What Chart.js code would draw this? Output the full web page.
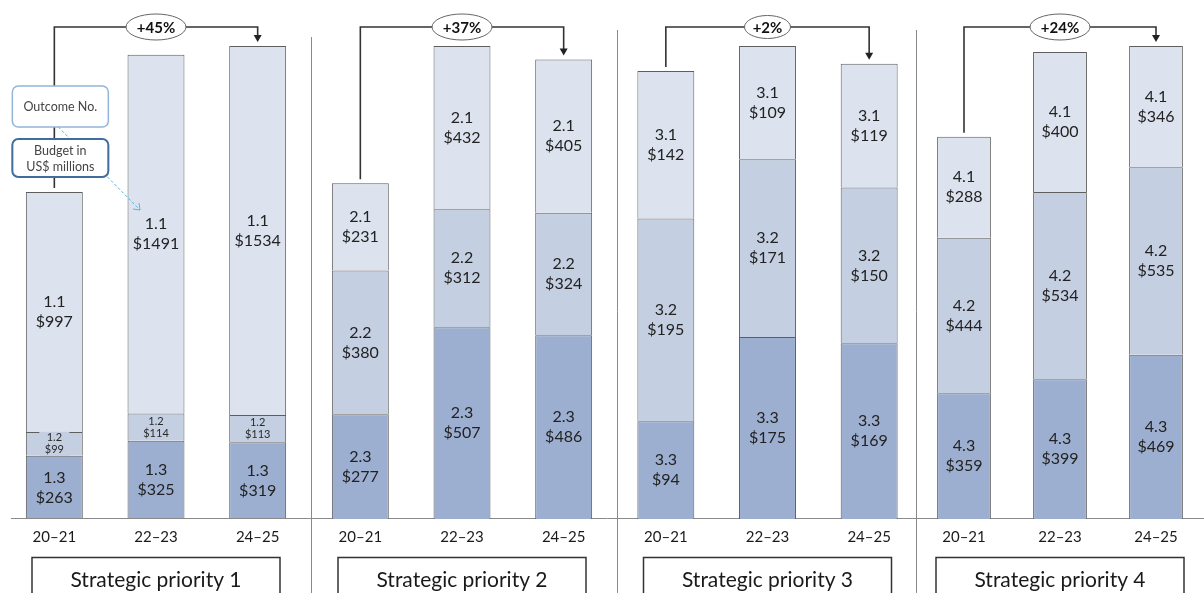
<!DOCTYPE html>
<html>
<head>
<meta charset="utf-8">
<script src="https://cdn.jsdelivr.net/npm/chart.js@4.4.1/dist/chart.umd.min.js"></script>
<style>
html, body { margin: 0; padding: 0; background: #fff; }
#wrap { position: relative; width: 1204px; height: 593px; overflow: hidden; }
#wrap canvas { position: absolute; left: 0; top: 0; }
</style>
</head>
<body>
<div id="wrap">
  <canvas id="sp1" width="1204" height="593"></canvas>
  <canvas id="sp2" width="1204" height="593"></canvas>
  <canvas id="sp3" width="1204" height="593"></canvas>
  <canvas id="sp4" width="1204" height="593"></canvas>
</div>
<script>
const periods = ['20–21', '22–23', '24–25'];
const priorityNames = ['Strategic priority 1', 'Strategic priority 2', 'Strategic priority 3', 'Strategic priority 4'];
const changes = ['+45%', '+37%', '+2%', '+24%'];

// Budget in US$ millions per outcome, one value per biennium
const sp1Outcomes = ['1.1', '1.2', '1.3'];
const sp1Top = [997, 1491, 1534];
const sp1Mid = [99, 114, 113];
const sp1Bottom = [263, 325, 319];

const sp2Outcomes = ['2.1', '2.2', '2.3'];
const sp2Top = [231, 432, 405];
const sp2Mid = [380, 312, 324];
const sp2Bottom = [277, 507, 486];

const sp3Outcomes = ['3.1', '3.2', '3.3'];
const sp3Top = [142, 109, 119];
const sp3Mid = [195, 171, 150];
const sp3Bottom = [94, 175, 169];

const sp4Outcomes = ['4.1', '4.2', '4.3'];
const sp4Top = [288, 400, 346];
const sp4Mid = [444, 534, 535];
const sp4Bottom = [359, 399, 469];

const FONT = "Lato, 'Liberation Sans', sans-serif";
const colTop = '#dde3ee', colMid = '#c5cfe2', colBottom = '#9dafd0';

// where each panel's plot area starts, and the panel dividers
const panelLeft = [3.5, 309.5, 615, 916];
const panelWidth = 305;
const dividerX = [null, 311.5, 617.5, 916.5];
const dividerTop = [null, 37, 30, 30];

function drawSegmentLabels(ctx, chart, outcomes) {
  const colors = [colBottom, colMid, colTop];
  chart.data.datasets.forEach((ds, d) => {
    const meta = chart.getDatasetMeta(d);
    meta.data.forEach((el, i) => {
      const h = el.base - el.y;
      const cy = (el.y + el.base) / 2;
      const name = outcomes[2 - d];
      const val = '$' + ds.data[i];
      ctx.textAlign = 'center';
      ctx.textBaseline = 'middle';
      if (h < 36) {
        ctx.fillStyle = colors[d];
        ctx.fillRect(el.x - 15, cy - 12, 30, 24);
        ctx.font = '11px ' + FONT;
        ctx.fillStyle = '#2a2a2a';
        ctx.fillText(name, el.x, cy - 6);
        ctx.fillText(val, el.x, cy + 6);
      } else {
        ctx.font = '16px ' + FONT;
        ctx.fillStyle = '#222';
        ctx.fillText(name, el.x, cy - 10);
        ctx.fillText(val, el.x, cy + 10);
      }
    });
  });
}

function drawBracket(ctx, chart, label) {
  const top = chart.getDatasetMeta(2).data;
  const x0 = top[0].x, x1 = top[1].x, x2 = top[2].x;
  const yb = 27;
  ctx.strokeStyle = '#333';
  ctx.lineWidth = 1.6;
  ctx.beginPath();
  ctx.moveTo(x0, top[0].y - 4);
  ctx.lineTo(x0, yb);
  ctx.lineTo(x2, yb);
  ctx.lineTo(x2, top[2].y - 10);
  ctx.stroke();
  ctx.fillStyle = '#222';
  ctx.beginPath();
  ctx.moveTo(x2 - 4, top[2].y - 11);
  ctx.lineTo(x2 + 4, top[2].y - 11);
  ctx.lineTo(x2, top[2].y - 4);
  ctx.closePath();
  ctx.fill();
  // ellipse with the change
  const rx = label.length > 3 ? 30 : 23, ry = label.length > 3 ? 13 : 11.5;
  ctx.beginPath();
  ctx.ellipse(x1, yb, rx, ry, 0, 0, Math.PI * 2);
  ctx.fillStyle = '#fff';
  ctx.fill();
  ctx.strokeStyle = '#666';
  ctx.lineWidth = 1;
  ctx.stroke();
  ctx.fillStyle = '#111';
  ctx.font = 'bold 15px ' + FONT;
  ctx.textAlign = 'center';
  ctx.textBaseline = 'middle';
  ctx.fillText(label, x1, yb + 1);
}

function drawCallouts(ctx, chart) {
  const bx = chart.getDatasetMeta(2).data[0].x;
  const left = bx - 42;
  // dashed pointer from the legend boxes to a label
  const target = chart.getDatasetMeta(2).data[1];
  const tx = target.x - 16, ty = (target.y + target.base) / 2 - 24;
  ctx.save();
  ctx.strokeStyle = '#5ab4e2';
  ctx.lineWidth = 1;
  ctx.setLineDash([3, 2]);
  ctx.beginPath();
  ctx.moveTo(left + 46, 127);
  ctx.lineTo(tx, ty);
  ctx.stroke();
  ctx.setLineDash([]);
  ctx.beginPath();
  ctx.moveTo(tx - 7, ty - 1);
  ctx.lineTo(tx, ty);
  ctx.lineTo(tx - 1, ty - 7);
  ctx.stroke();
  ctx.restore();

  ctx.fillStyle = '#fff';
  ctx.beginPath();
  ctx.roundRect(left, 86, 96, 41, 6);
  ctx.fill();
  ctx.strokeStyle = '#93b5da';
  ctx.lineWidth = 1.5;
  ctx.stroke();
  ctx.beginPath();
  ctx.roundRect(left, 139, 96, 38, 6);
  ctx.fillStyle = '#fff';
  ctx.fill();
  ctx.strokeStyle = '#3f6e9e';
  ctx.lineWidth = 2;
  ctx.stroke();
  ctx.fillStyle = '#444';
  ctx.font = '12.5px ' + FONT;
  ctx.textAlign = 'center';
  ctx.textBaseline = 'middle';
  ctx.fillText('Outcome No.', left + 48, 107);
  ctx.fillText('Budget in', left + 48, 151);
  ctx.fillText('US$ millions', left + 48, 167);
}

function panelPlugin(idx, outcomes) {
  return {
    id: 'panelDecor' + idx,
    afterDatasetsDraw(chart) {
      const ctx = chart.ctx;
      ctx.save();
      if (idx === 0) {
        ctx.strokeStyle = '#8a8a8a';
        ctx.lineWidth = 1;
        ctx.beginPath();
        ctx.moveTo(11, 518.5);
        ctx.lineTo(1204, 518.5);
        ctx.stroke();
      } else {
        ctx.strokeStyle = '#8a8a8a';
        ctx.lineWidth = 1;
        ctx.beginPath();
        ctx.moveTo(dividerX[idx], dividerTop[idx]);
        ctx.lineTo(dividerX[idx], 593);
        ctx.stroke();
      }
      drawSegmentLabels(ctx, chart, outcomes);
      drawBracket(ctx, chart, changes[idx]);
      if (idx === 0) drawCallouts(ctx, chart);
      // priority name box under the panel
      const cx = chart.scales.x.getPixelForValue(1);
      ctx.strokeStyle = '#333';
      ctx.lineWidth = 1.5;
      ctx.strokeRect(cx - 124, 557.5, 248, 50);
      ctx.fillStyle = '#1a1a1a';
      ctx.font = '21px ' + FONT;
      ctx.textAlign = 'center';
      ctx.textBaseline = 'middle';
      ctx.fillText(priorityNames[idx], cx, 580);
      ctx.restore();
    }
  };
}

function makePanel(idx, outcomes, top, mid, bottom) {
  const canvas = document.getElementById('sp' + (idx + 1));
  const totals = top.map((v, i) => v + mid[i] + bottom[i]);
  new Chart(canvas.getContext('2d'), {
    type: 'bar',
    data: {
      labels: periods,
      datasets: [
        { label: outcomes[2], data: bottom, backgroundColor: colBottom },
        { label: outcomes[1], data: mid, backgroundColor: colMid },
        { label: outcomes[0], data: top, backgroundColor: colTop }
      ]
    },
    options: {
      responsive: false,
      animation: false,
      layout: { padding: { left: panelLeft[idx], right: 1204 - panelLeft[idx] - panelWidth, top: 46, bottom: 0 } },
      datasets: { bar: { barPercentage: 0.56, categoryPercentage: 1, borderColor: '#5e5e5e', borderWidth: 1 } },
      plugins: { legend: { display: false }, tooltip: { enabled: false } },
      scales: {
        x: {
          stacked: true,
          grid: { display: false, drawTicks: false },
          border: { display: false },
          ticks: { font: { family: FONT, size: 15 }, color: '#1a1a1a', padding: 9, maxRotation: 0 },
          afterFit(scale) { scale.height = 74; }
        },
        y: { stacked: true, display: false, min: 0, max: Math.max(...totals) }
      }
    },
    plugins: [panelPlugin(idx, outcomes)]
  });
}

makePanel(0, sp1Outcomes, sp1Top, sp1Mid, sp1Bottom);
makePanel(1, sp2Outcomes, sp2Top, sp2Mid, sp2Bottom);
makePanel(2, sp3Outcomes, sp3Top, sp3Mid, sp3Bottom);
makePanel(3, sp4Outcomes, sp4Top, sp4Mid, sp4Bottom);
</script>
</body>
</html>
